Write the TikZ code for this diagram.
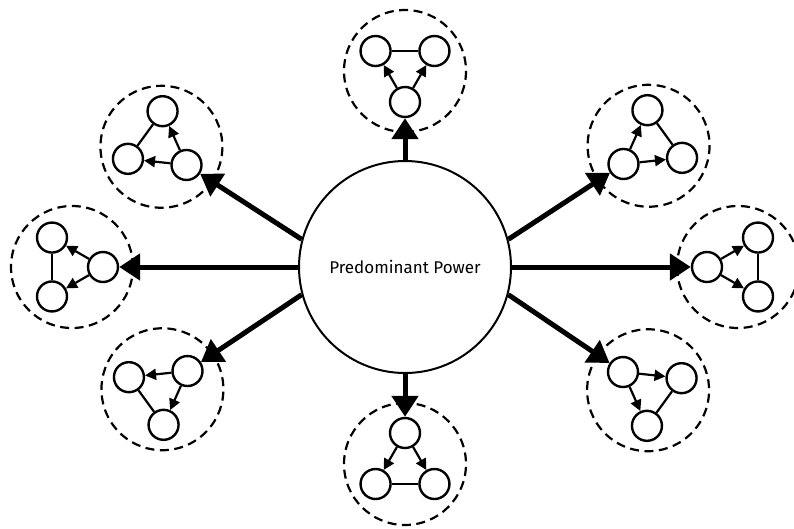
\documentclass[tikz,border=0pt]{standalone}
\usepackage{fontspec}
\setmainfont{Fira Sans}
\usetikzlibrary{arrows.meta}
\begin{document}
\begin{tikzpicture}[x=1pt,y=1pt,
  mainc/.style={circle, draw, line width=2pt, minimum size=212pt, inner sep=0pt, font=\fontsize{17}{20}\selectfont},
  sub/.style={circle, draw, line width=2.4pt, minimum size=30pt, inner sep=0pt},
  group/.style={draw, dash pattern=on 9pt off 5.5pt, line width=2.2pt},
  bigarrow/.style={line width=5pt, -{Triangle[length=21pt,width=26pt]}},
  smallarrow/.style={line width=2.2pt, -{Triangle[length=11pt,width=11pt]}},
  link/.style={line width=2.2pt}]
\useasboundingbox (0,0) rectangle (794,-528);
\node[mainc] (M) at (405,-267) {Predominant Power};
\newcommand\mysat[4]{%
  \begin{scope}[shift={(#2,-#3)}, rotate=#4]
    \draw[group] (3,0) circle[radius=61];
    \node[sub] (#1e) at (0:34) {};
    \node[sub] (#1a) at (120:34) {};
    \node[sub] (#1b) at (240:34) {};
  \end{scope}
  \draw[smallarrow] (#1e) -- (#1a);
  \draw[smallarrow] (#1e) -- (#1b);
  \draw[link] (#1a) -- (#1b);
}
\mysat{T}{405}{68}{-90}
\mysat{B}{405}{467}{90}
\mysat{L}{69}{267}{0}
\mysat{R}{741}{267}{180}
\mysat{UL}{159}{145}{-36}
\mysat{LL}{160}{391}{36}
\mysat{UR}{651}{144}{216}
\mysat{LR}{650.5}{392}{144}
\draw[bigarrow] (M.90) -- (Te);
\draw[bigarrow] (M.270) -- (Be);
\draw[bigarrow] (M.180) -- (Le);
\draw[bigarrow] (M.0) -- (Re);
\draw[bigarrow] (M.165) -- (ULe);
\draw[bigarrow] (M.195) -- (LLe);
\draw[bigarrow] (M.15) -- (URe);
\draw[bigarrow] (M.-15) -- (LRe);
\end{tikzpicture}
\end{document}
